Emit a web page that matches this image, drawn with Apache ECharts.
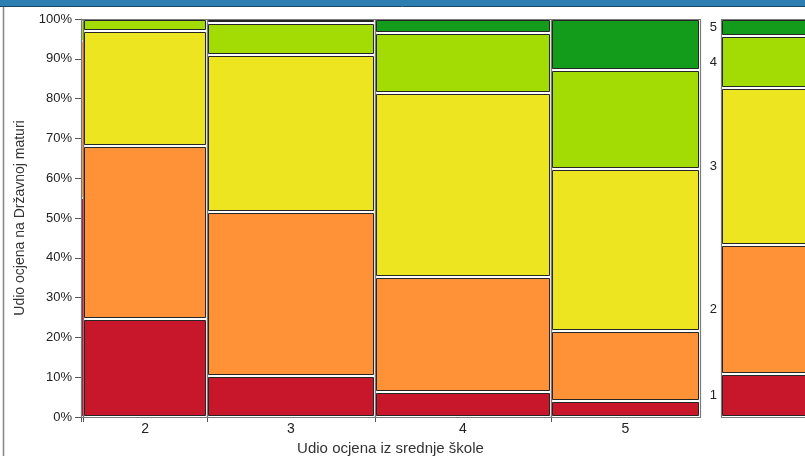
<!DOCTYPE html>
<html><head><meta charset="utf-8">
<script src="https://cdn.jsdelivr.net/npm/echarts@6/dist/echarts.min.js"></script>
<style>html,body{margin:0;padding:0;background:#fff;overflow:hidden}#c{width:805px;height:456px}</style>
</head><body><div id="c"></div>
<script>
// School grade categories (x) and Matura grade categories (stacked)
const schoolGrades = ['1', '2', '3', '4', '5'];
const maturaGrades = ['1', '2', '3', '4', '5'];
// Width share (%) of each school-grade column
const colShare = [0.40, 19.95, 27.14, 28.43, 24.07];
// Share (%) of Matura grades 1..5 within each school-grade column
const col1 = [55.0, 39.5, 0.0, 5.0, 0.5];
const col2 = [24.7, 43.5, 28.8, 3.0, 0.0];
const col3 = [10.4, 41.2, 39.3, 8.1, 1.0];
const col4 = [6.3, 29.0, 46.2, 14.9, 3.6];
const col5 = [4.0, 17.6, 40.6, 25.1, 12.7];
// Overall Matura grade distribution (right margin bar)
const overall = [10.9, 32.3, 39.5, 13.0, 4.3];
const gradeColors = ['#C8172A', '#FF9137', '#EDE51F', '#A3DC05', '#139B1C'];

const columns = [col1, col2, col3, col4, col5];
const colStart = [];
let acc = 0;
colShare.forEach(w => { colStart.push(acc); acc += w; });
const colEnd = colStart.map((s, i) => s + colShare[i]);
const colCenter = colStart.map((s, i) => s + colShare[i] / 2);

const tiles = [];
columns.forEach((arr, ci) => {
  let cum = 0;
  arr.forEach((v, gi) => {
    if (v > 0) tiles.push([colStart[ci], colEnd[ci], cum, cum + v, gi]);
    cum += v;
  });
});
const frames = colStart.map((s, i) => [s, colEnd[i], 0, 100]);

const overallTiles = [];
const overallCenters = [];
{
  let cum = 0;
  overall.forEach((v, gi) => {
    overallTiles.push([0, 1, cum, cum + v, gi]);
    overallCenters.push(cum + v / 2);
    cum += v;
  });
}

function frameItem(params, api) {
  const a = api.coord([api.value(0), api.value(2)]);
  const b = api.coord([api.value(1), api.value(3)]);
  const L = Math.round(a[0]), R = Math.round(b[0]);
  const B = Math.round(a[1]), T = Math.round(b[1]);
  return { type: 'rect', shape: { x: L + 0.5, y: T + 0.5, width: R - L, height: B - T },
    style: { fill: null, stroke: '#7a7a7a', lineWidth: 1.2 } };
}
function tileItem(params, api) {
  const a = api.coord([api.value(0), api.value(2)]);
  const b = api.coord([api.value(1), api.value(3)]);
  const gi = api.value(4);
  const L = Math.round(a[0]), R = Math.round(b[0]);
  const B = Math.round(a[1]), T = Math.round(b[1]);
  const color = gradeColors[gi];
  if (R - L < 5) {
    return { type: 'rect', shape: { x: L + 1, y: T + 1, width: Math.max(1, R - L - 1), height: Math.max(0.5, B - T - 2) },
      style: { fill: color } };
  }
  const x0 = L + 1.5, x1 = R - 1.5;
  const y0 = T + 1.5, y1 = B - 1.5;
  if (y1 - y0 < 0.5) return null;
  return { type: 'rect', shape: { x: x0, y: y0, width: x1 - x0, height: y1 - y0 },
    style: { fill: color, stroke: '#262626', lineWidth: 1 } };
}

const font = 'Liberation Sans, Arial, sans-serif';
const chart = echarts.init(document.getElementById('c'), null, { renderer: 'canvas' });
chart.setOption({
  animation: false,
  backgroundColor: '#ffffff',
  textStyle: { fontFamily: font },
  graphic: [
    { type: 'rect', shape: { x: 0, y: 0, width: 805, height: 6 }, style: { fill: '#2E7FB1' } },
    { type: 'line', shape: { x1: 0, y1: 6.5, x2: 805, y2: 6.5 }, style: { stroke: '#1D4460', lineWidth: 1 } },
    { type: 'line', shape: { x1: 3.5, y1: 7, x2: 3.5, y2: 456 }, style: { stroke: '#858585', lineWidth: 1.5 } }
  ],
  grid: [
    { left: 81, top: 19, bottom: 39, right: 105, containLabel: false, outerBoundsMode: 'none' },
    { left: 721, top: 19, bottom: 39, width: 140, containLabel: false, outerBoundsMode: 'none' }
  ],
  xAxis: [
    {
      gridIndex: 0, type: 'value', min: 0, max: 100,
      name: 'Udio ocjena iz srednje škole', nameLocation: 'middle', nameGap: 21,
      nameTextStyle: { fontSize: 15, color: '#333', fontFamily: font },
      axisLine: { show: true, lineStyle: { color: '#7a7a7a' } },
      axisTick: { show: true, length: 5, customValues: colStart, lineStyle: { color: '#555' } },
      axisLabel: {
        show: true, customValues: colCenter.slice(1), fontSize: 14, color: '#222', margin: 5, fontFamily: font,
        formatter: function (v) {
          let best = 0, d = 1e9;
          colCenter.forEach((c, i) => { if (Math.abs(c - v) < d) { d = Math.abs(c - v); best = i; } });
          return schoolGrades[best];
        }
      },
      splitLine: { show: false }
    },
    { gridIndex: 1, type: 'value', min: 0, max: 1, show: false }
  ],
  yAxis: [
    {
      gridIndex: 0, type: 'value', min: 0, max: 100, interval: 10,
      name: 'Udio ocjena na Državnoj maturi', nameLocation: 'middle', nameGap: 54,
      nameTextStyle: { fontSize: 14, color: '#333', fontFamily: font },
      axisLine: { show: true, lineStyle: { color: '#7a7a7a' } },
      axisTick: { show: true, length: 6, lineStyle: { color: '#555' } },
      axisLabel: { formatter: '{value}%', fontSize: 13, color: '#222', margin: 9, fontFamily: font },
      splitLine: { show: false }
    },
    {
      gridIndex: 1, type: 'value', min: 0, max: 100,
      axisLine: { show: false }, axisTick: { show: false }, splitLine: { show: false },
      axisLabel: {
        show: true, customValues: overallCenters, fontSize: 13, color: '#222', margin: 4, fontFamily: font,
        formatter: function (v) {
          let best = 0, d = 1e9;
          overallCenters.forEach((c, i) => { if (Math.abs(c - v) < d) { d = Math.abs(c - v); best = i; } });
          return maturaGrades[best];
        }
      }
    }
  ],
  series: [
    { type: 'custom', xAxisIndex: 0, yAxisIndex: 0, renderItem: frameItem, data: frames,
      encode: { x: [0, 1], y: [2, 3] }, silent: true, z: 1 },
    { type: 'custom', xAxisIndex: 0, yAxisIndex: 0, renderItem: tileItem, data: tiles,
      encode: { x: [0, 1], y: [2, 3] }, silent: true, z: 2 },
    { type: 'custom', xAxisIndex: 1, yAxisIndex: 1, renderItem: frameItem, data: [[0, 1, 0, 100]],
      encode: { x: [0, 1], y: [2, 3] }, silent: true, z: 1 },
    { type: 'custom', xAxisIndex: 1, yAxisIndex: 1, renderItem: tileItem, data: overallTiles,
      encode: { x: [0, 1], y: [2, 3] }, silent: true, z: 2 }
  ]
});
</script>
</body></html>
